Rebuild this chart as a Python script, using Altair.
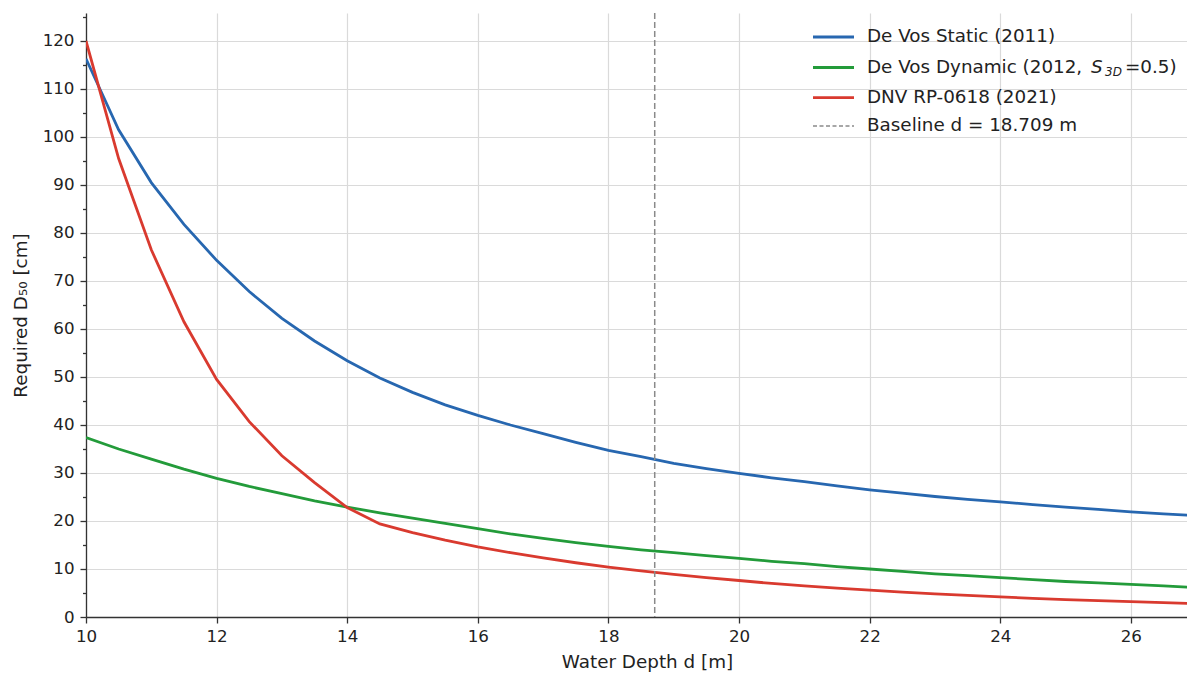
import altair as alt
import pandas as pd

# ---- data ----
depth = [10.0, 10.5, 11.0, 11.5, 12.0, 12.5, 13.0, 13.5, 14.0, 14.5, 15.0, 15.5,
         16.0, 16.5, 17.0, 17.5, 18.0, 18.5, 19.0, 19.5, 20.0, 20.5, 21.0, 21.5,
         22.0, 22.5, 23.0, 23.5, 24.0, 24.5, 25.0, 25.5, 26.0, 26.5, 26.9]
static_2011 = [116.3, 101.5, 90.5, 81.8, 74.3, 67.8, 62.2, 57.5, 53.4, 49.8, 46.8, 44.2,
               42.0, 40.0, 38.2, 36.4, 34.7, 33.4, 32.0, 30.9, 29.9, 29.0, 28.2, 27.3,
               26.5, 25.8, 25.1, 24.5, 24.0, 23.4, 22.9, 22.4, 21.9, 21.5, 21.2]
dynamic_2012 = [37.4, 35.0, 32.9, 30.8, 28.9, 27.2, 25.7, 24.2, 22.9, 21.7, 20.6, 19.5,
                18.4, 17.3, 16.4, 15.5, 14.7, 14.0, 13.4, 12.8, 12.2, 11.6, 11.1, 10.5,
                10.0, 9.5, 9.0, 8.6, 8.2, 7.8, 7.4, 7.1, 6.8, 6.5, 6.2]
dnv_2021 = [120.0, 95.5, 76.5, 61.5, 49.5, 40.7, 33.6, 28.0, 22.8, 19.4, 17.6, 16.0,
            14.6, 13.4, 12.3, 11.3, 10.4, 9.6, 8.9, 8.2, 7.6, 7.0, 6.5, 6.0,
            5.6, 5.2, 4.8, 4.5, 4.2, 3.9, 3.6, 3.4, 3.2, 3.0, 2.8]
baseline_depth = [18.709]

series_names = ["De Vos Static (2011)", "De Vos Dynamic (2012)", "DNV RP-0618 (2021)"]
series_colors = ["#2767b0", "#239b3a", "#d93a2f"]
x_ticks = [10, 12, 14, 16, 18, 20, 22, 24, 26]
y_ticks = [0, 5, 10, 15, 20, 25, 30, 35, 40, 45, 50, 55, 60, 65, 70, 75, 80, 85,
           90, 95, 100, 105, 110, 115, 120, 125]

FONT = "DejaVu Sans"
TXT = "#222222"

rows = []
for name, vals in zip(series_names, [static_2011, dynamic_2012, dnv_2021]):
    for d, v in zip(depth, vals):
        rows.append({"depth": d, "D50": v, "series": name})
df = pd.DataFrame(rows)

W, H = 1101, 604
xscale = alt.Scale(domain=[10, 26.86], nice=False, zero=False)
yscale = alt.Scale(domain=[0, 125.83], nice=False, zero=False)

lines = alt.Chart(df).mark_line(strokeWidth=2.8, clip=True).encode(
    x=alt.X("depth:Q", scale=xscale,
            axis=alt.Axis(values=x_ticks, title="Water Depth d [m]", format="d",
                          grid=True, tickSize=6, labelPadding=5, labelFlush=False,
                          titleX=561, titlePadding=9)),
    y=alt.Y("D50:Q", scale=yscale,
            axis=alt.Axis(values=y_ticks, title="Required D₅₀ [cm]",
                          labelExpr="datum.value % 10 === 0 ? datum.label : ''",
                          grid=True, labelFlush=False,
                          gridOpacity={"condition": {"test": "datum.value % 10 === 0", "value": 1}, "value": 0},
                          tickSize={"condition": {"test": "datum.value % 10 === 0", "value": 6}, "value": 3.5},
                          labelPadding=6, titlePadding=12)),
    color=alt.Color("series:N", scale=alt.Scale(domain=series_names, range=series_colors),
                    legend=None),
    detail="series:N",
)

base_df = pd.DataFrame({"depth": baseline_depth})
baseline = alt.Chart(base_df).mark_rule(color="#8a8a8a", strokeWidth=1.5,
                                        strokeDash=[6, 3]).encode(
    x=alt.X("depth:Q", scale=xscale)
)

# ---- manual legend (to allow italic / subscript label) ----
leg_colors = series_colors + ["#8a8a8a"]
leg_dash = [[1, 0], [1, 0], [1, 0], [4, 2.5]]
leg_width = [2.8, 2.8, 2.8, 1.3]
leg_y = [24, 54.5, 84.7, 113]
legend_layers = []
for c, dsh, w, yy in zip(leg_colors, leg_dash, leg_width, leg_y):
    legend_layers.append(
        alt.Chart(base_df).mark_rule(color=c, strokeWidth=w, strokeDash=dsh).encode(
            x=alt.value(727), x2=alt.value(768), y=alt.value(yy))
    )

leg_text = [
    ("De Vos Static (2011)", 781, 24, 18.33, "normal"),
    ("De Vos Dynamic (2012, ", 781, 54.5, 18.33, "normal"),
    ("S", 1005, 54.5, 18.33, "italic"),
    ("3D", 1019, 58.5, 12.0, "italic"),
    ("=0.5)", 1039, 54.5, 18.33, "normal"),
    ("DNV RP-0618 (2021)", 781, 84.7, 18.33, "normal"),
    ("Baseline d = 18.709 m", 781, 113, 18.33, "normal"),
]
for t, xx, yy, fs, st in leg_text:
    legend_layers.append(
        alt.Chart(base_df).mark_text(text=t, align="left", baseline="middle",
                                     font=FONT, fontSize=fs, fontStyle=st,
                                     color=TXT).encode(
            x=alt.value(xx), y=alt.value(yy))
    )

chart = alt.layer(lines, baseline, *legend_layers).properties(
    width=W, height=H,
    background="white",
    autosize=alt.AutoSizeParams(type="none"),
    padding={"left": 86, "top": 13, "right": 0, "bottom": 58},
).configure_view(stroke=None).configure_axis(
    labelFont=FONT, titleFont=FONT, labelFontSize=16.7, titleFontSize=18.33,
    labelColor=TXT, titleColor=TXT, titleFontWeight="normal",
    domainColor="#333333", domainWidth=1.3, tickColor="#333333", tickWidth=1.3,
    gridColor="#dadada", gridWidth=1.2,
)

chart.save("out.html", embed_options={"renderer": "svg", "actions": False})
